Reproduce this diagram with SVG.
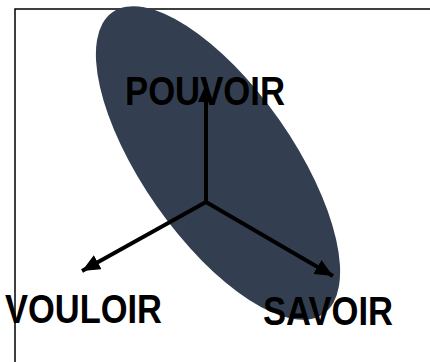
<svg xmlns="http://www.w3.org/2000/svg" width="430" height="362" viewBox="0 0 430 362">
<defs>
<style>
.lbl{font-family:"Liberation Sans",Arial,sans-serif;font-weight:bold;font-size:40px;fill:#000}
.ax{stroke:#000;stroke-width:4;fill:none;marker-end:url(#ah)}
</style>
<marker id="ah" markerUnits="userSpaceOnUse" markerWidth="20" markerHeight="16" refX="18" refY="8" orient="auto">
<path d="M0,0 L18,8 L0,16 Z" fill="#000"/>
</marker>
</defs>
<rect width="430" height="362" fill="#fff"/>
<path d="M15,362 V9 H430" fill="none" stroke="#000" stroke-width="1.5"/>
<g id="ellipse">
<ellipse cx="218" cy="163" rx="184" ry="75" transform="rotate(55 218 163)" fill="#333F50"/>
</g>
<g id="pouvoir"><text class="lbl" x="125" y="105" textLength="160" lengthAdjust="spacingAndGlyphs">POUVOIR</text></g>
<g id="vouloir"><text class="lbl" x="5" y="323" textLength="157" lengthAdjust="spacingAndGlyphs">VOULOIR</text></g>
<g id="savoir"><text class="lbl" x="263" y="325" textLength="130" lengthAdjust="spacingAndGlyphs">SAVOIR</text></g>
<g id="connectors">
<line class="ax" x1="206" y1="202" x2="206" y2="84"/>
<line class="ax" x1="206" y1="202" x2="82" y2="271"/>
<line class="ax" x1="206" y1="202" x2="333" y2="276"/>
</g>
</svg>
